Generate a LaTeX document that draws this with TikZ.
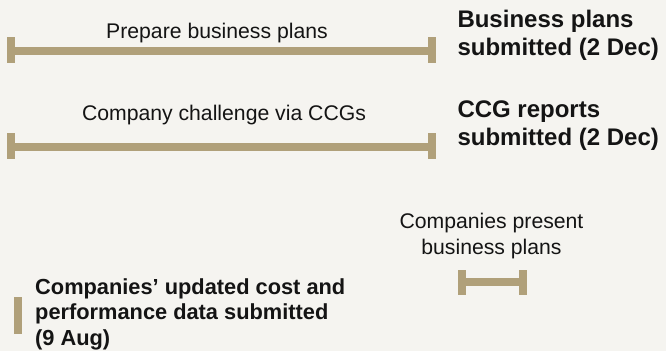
\documentclass[tikz,border=0pt]{standalone}
\usepackage{fontspec}
\setmainfont{Liberation Sans}
\definecolor{bg}{RGB}{245,244,240}
\definecolor{barc}{RGB}{176,160,122}
\definecolor{txt}{RGB}{20,20,20}
\begin{document}
\begin{tikzpicture}[x=1pt,y=-1pt,
  barpart/.style={fill=barc,draw=none},
  plain/.style={inner sep=0pt,text=txt,font=\fontsize{21.2}{26}\selectfont},
  boldr/.style={inner sep=0pt,text=txt,align=left,font=\fontsize{24}{28}\selectfont\bfseries},
  boldl/.style={inner sep=0pt,text=txt,align=left,font=\fontsize{21.8}{25.5}\selectfont\bfseries}]
\useasboundingbox[fill=bg] (0,0) rectangle (666,351);
% bar 1
\fill[barpart] (6.5,37) rectangle (14.5,63);
\fill[barpart] (14.5,47.3) rectangle (428,55.3);
\fill[barpart] (428,37) rectangle (436,63);
% bar 2
\fill[barpart] (6.5,133) rectangle (14.5,159);
\fill[barpart] (14.5,143) rectangle (428,151);
\fill[barpart] (428,133) rectangle (436,159);
% bar 3
\fill[barpart] (457.5,269.5) rectangle (466,295);
\fill[barpart] (466,278) rectangle (518.5,286);
\fill[barpart] (518.5,269.5) rectangle (526.5,295);
% bar 4
\fill[barpart] (14,297.3) rectangle (22,334);
% texts (multi-line nodes: base anchor = last line's baseline)
\node[plain,anchor=base] (t1) at (217,38.3) {Prepare business plans};
\node[plain,anchor=base] (t2) at (224,120.5) {Company challenge via CCGs};
\node[boldr,anchor=base west] (t3) at (457.3,55) {Business plans\\submitted (2 Dec)};
\node[boldr,anchor=base west] (t4) at (457.3,145) {CCG reports\\submitted (2 Dec)};
\node[plain,align=center,anchor=base] (t5) at (491.5,254.3) {Companies present\\business plans};
\node[boldl,anchor=base west] (t6) at (35,345) {Companies’ updated cost and\\performance data submitted\\(9 Aug)};
\end{tikzpicture}
\end{document}
